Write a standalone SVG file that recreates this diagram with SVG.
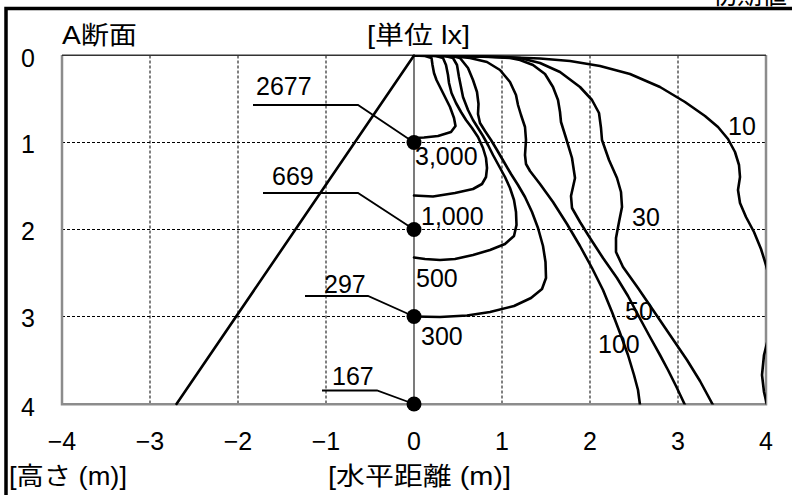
<svg xmlns="http://www.w3.org/2000/svg" width="792" height="495" viewBox="0 0 792 495">
<style>
text{font-family:"Liberation Sans","Noto Sans CJK JP",sans-serif;fill:#000;font-size:25px}
.grid{stroke:#000;stroke-width:1;stroke-dasharray:3 2;fill:none}
.contour{fill:none;stroke:#000;stroke-width:2.6;stroke-linejoin:round;stroke-linecap:round}
.leader{fill:none;stroke:#000;stroke-width:1.8}
.dot{fill:#000}
.axl{text-anchor:middle}
</style>
<defs>
<clipPath id="plotclip"><rect x="62" y="55" width="704" height="349.5"/></clipPath>
</defs>
<rect x="0" y="0" width="792" height="495" fill="#fff"/>
<g id="frame">
<text x="712" y="4" font-size="24">初期値</text>
<path d="M6,495 V8.5 H792" fill="none" stroke="#000" stroke-width="3.5"/>
</g>
<g id="grid">
<path class="grid" d="M150,55.5V404 M238,55.5V404 M326,55.5V404 M502,55.5V404 M590,55.5V404 M678,55.5V404 M62,142.5H766 M62,229.5H766 M62,316.5H766"/>
<line x1="414" y1="55.5" x2="414" y2="404" stroke="#333" stroke-width="1.3"/>
</g>
<g id="plot-border">
<path d="M62,55 V404.3 H766 V55" fill="none" stroke="#8c8c8c" stroke-width="2.5"/>
<line x1="62" y1="55.2" x2="766" y2="55.2" stroke="#333" stroke-width="1.6"/>
</g>
<g id="axes-labels">
<text class="axl" x="28" y="67">0</text>
<text class="axl" x="28" y="153">1</text>
<text class="axl" x="28" y="240">2</text>
<text class="axl" x="28" y="327">3</text>
<text class="axl" x="28" y="416">4</text>
<text class="axl" x="62" y="450">−4</text>
<text class="axl" x="150" y="450">−3</text>
<text class="axl" x="238" y="450">−2</text>
<text class="axl" x="326" y="450">−1</text>
<text class="axl" x="414" y="450">0</text>
<text class="axl" x="502" y="450">1</text>
<text class="axl" x="590" y="450">2</text>
<text class="axl" x="678" y="450">3</text>
<text class="axl" x="766" y="450">4</text>
<text x="62" y="44" textLength="75" lengthAdjust="spacingAndGlyphs">A断面</text>
<text x="367" y="44" textLength="103" lengthAdjust="spacingAndGlyphs">[単位 lx]</text>
<text x="9" y="485" textLength="118" lengthAdjust="spacingAndGlyphs">[高さ (m)]</text>
<text x="328" y="485" textLength="183" lengthAdjust="spacingAndGlyphs">[水平距離 (m)]</text>
</g>
<g id="section-line">
<line x1="414" y1="55.5" x2="176.5" y2="404" class="contour"/>
</g>
<g id="contours" clip-path="url(#plotclip)">
<path id="c3000" class="contour" d="M414,55.5 L425,56 L431.5,58 L432.5,65 L434,73 L436.5,80 L443,93 L450,107 L454,118 L455.5,126 L451,132 L438,136 L424,137.5 L414,138"/>
<path id="c1000" class="contour" d="M414,55.5 L436,56 L443,58 L446,65 L448,75 L449,83 L451.5,93 L456,103 L461,112 L466,120 L472,128 L478,137 L483,148 L486,158 L487,168 L486,177 L482,184 L473,189 L455,193 L433,196.5 L414,195.5"/>
<path id="c500" class="contour" d="M414,55.5 L445,56 L453,58 L457,65 L459,77 L461,87 L463,97 L468,110 L473,120 L478,128 L483,136 L488,145 L493,155 L499,166 L505,177 L510,188 L514,200 L516,212 L516.5,225 L514,236 L505,244 L490,250 L473,255 L455,259 L440,260 L425,259 L414,257.5"/>
<path id="c300" class="contour" d="M414,55.5 L452,56 L460,58 L468,68 L473,80 L477,92 L478.5,104 L478,114 L480,123 L485,131 L491,140 L497,150 L504,162 L511,174 L518,185 L525,197 L532,212 L538,228 L543,246 L545.5,262 L546,278 L542,289 L531,298 L514,306 L490,312 L467,315.5 L440,317 L414,316.5"/>
<path id="c100" class="contour" d="M414,55.5 L450,56 L470,58 L487,62 L500,70 L510,82 L516,95 L518,105 L521,115 L525,127 L526,140 L525,155 L526,164 L530,171 L540,184 L553,202 L567,224 L580,246 L592,268 L603,290 L612,312 L620,333 L628,355 L634,375 L638,390 L640,405"/>
<path id="c50" class="contour" d="M414,55.5 L460,56 L490,57 L510,58 L520,60 L533,65 L545,74 L553,87 L558,100 L560,112 L561,122 L566,138 L572,158 L575,178 L571,196 L572,208 L580,222 L590,238 L603,258 L617,278 L628,296 L637,313 L650,337 L660,355 L668,370 L676,386 L685,405"/>
<path id="c30" class="contour" d="M414,55.5 L470,56 L500,57 L520,58 L540,63 L560,72 L580,87 L592,100 L599,113 L601,128 L602,140 L609,160 L617,178 L621,192 L622,207 L619,222 L616,238 L616,252 L623,267 L638,288 L653,310 L670,335 L687,360 L700,381 L713,405"/>
<path id="c10" class="contour" d="M414,55.5 L450,56 L500,57 L540,58.5 L570,61 L600,66 L630,74 L660,87 L685,102 L705,116 L718,127 L728,139 L735,152 L739,165 L740,177 L738,190 L740,203 L746,217 L754,232 L761,249 L766,265 L772,290 L774,315 L769,335 L764,355 L762,375 L764,392 L767,405"/>
</g>
<g id="contour-labels">
<text x="415" y="165">3,000</text>
<text x="421" y="225">1,000</text>
<text x="416" y="287">500</text>
<text x="421" y="345">300</text>
<text x="632" y="226">30</text>
<text x="625" y="320">50</text>
<text x="598" y="353">100</text>
<text x="728" y="135">10</text>
</g>
<g id="connectors">
<path class="leader" d="M253,105 H358 L414,142.5"/>
<path class="leader" d="M263,193 H358 L414,229.5"/>
<path class="leader" d="M305,296 H368 L414,316.5"/>
<path class="leader" d="M322,390.5 H377 L414,404"/>
</g>
<g id="point-2677"><circle class="dot" cx="414" cy="142.5" r="7.5"/><text x="256" y="95">2677</text></g>
<g id="point-669"><circle class="dot" cx="414" cy="229.5" r="7.5"/><text x="272" y="185">669</text></g>
<g id="point-297"><circle class="dot" cx="414" cy="316.5" r="7.5"/><text x="324" y="293">297</text></g>
<g id="point-167"><circle class="dot" cx="414" cy="404" r="7.5"/><text x="332" y="385">167</text></g>
</svg>
